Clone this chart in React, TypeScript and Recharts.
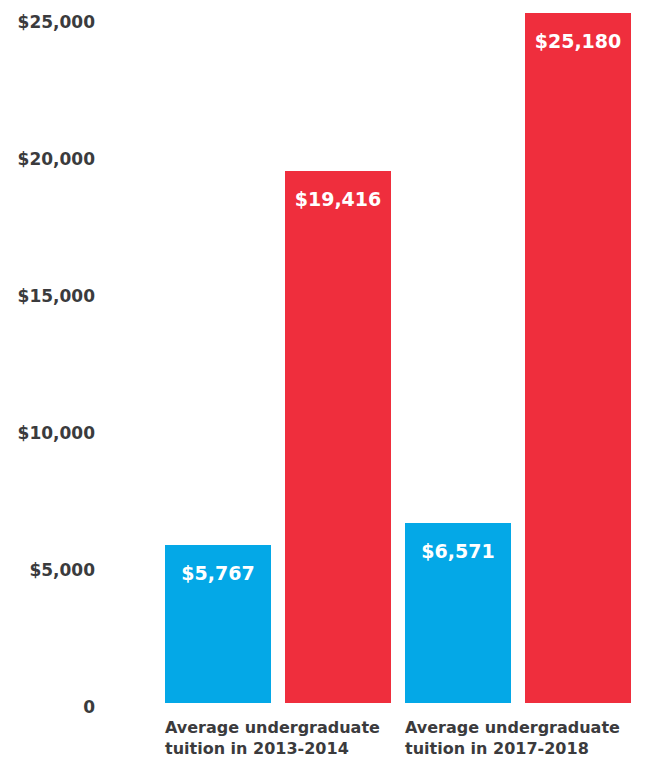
import React from "react";
import { BarChart, Bar, XAxis, YAxis, LabelList } from "recharts";

const categories = ["Average undergraduate|tuition in 2013-2014", "Average undergraduate|tuition in 2017-2018"];
const publicTuition = [5767, 6571];
const privateTuition = [19416, 25180];
const yTicks = [0, 5000, 10000, 15000, 20000, 25000];
const yTickLabels = ["0", "$5,000", "$10,000", "$15,000", "$20,000", "$25,000"];

const data = categories.map((c, i) => ({ name: c, a: publicTuition[i], b: privateTuition[i] }));

const FONT = "'DejaVu Sans', sans-serif";

const fmt = (v: number) => "$" + v.toLocaleString("en-US");

const YTick = (props: any) => {
  const { y, payload } = props;
  const idx = yTicks.indexOf(payload.value);
  return (
    <text x={95} y={y + 4} textAnchor="end" dominantBaseline="central" fontFamily={FONT} fontWeight={700} fontSize={17} fill="#3b3b3d">
      {yTickLabels[idx]}
    </text>
  );
};

const XTick = (props: any) => {
  const { x, y, payload } = props;
  const lines = String(payload.value).split("|");
  return (
    <g>
      {lines.map((l, i) => (
        <text key={i} x={x - 113} y={y + 16 + i * 21} textAnchor="start" dominantBaseline="central" fontFamily={FONT} fontWeight={700} fontSize={16} fill="#3b3b3d">
          {l}
        </text>
      ))}
    </g>
  );
};

const ValueLabel = (props: any) => {
  const { x, y, width, value } = props;
  return (
    <text x={x + width / 2} y={y + 28} textAnchor="middle" dominantBaseline="central" fontFamily={FONT} fontWeight={700} fontSize={19} fill="#ffffff">
      {fmt(value)}
    </text>
  );
};

export default function App() {
  return (
    <div style={{ position: "absolute", left: 0, top: 0, width: 650, height: 775, background: "#fff" }}>
      <BarChart width={650} height={775} data={data} margin={{ top: 13, right: 12, bottom: 0, left: 0 }} barGap={14} barCategoryGap={7}>
        <XAxis dataKey="name" axisLine={false} tickLine={false} height={72} tick={<XTick />} interval={0} />
        <YAxis width={158} domain={[0, "dataMax"]} ticks={yTicks} axisLine={false} tickLine={false} tick={<YTick />} interval={0} />
        <Bar dataKey="a" fill="#04a8e7" isAnimationActive={false}>
          <LabelList dataKey="a" content={<ValueLabel />} />
        </Bar>
        <Bar dataKey="b" fill="#ef2e3d" isAnimationActive={false}>
          <LabelList dataKey="b" content={<ValueLabel />} />
        </Bar>
      </BarChart>
    </div>
  );
}
